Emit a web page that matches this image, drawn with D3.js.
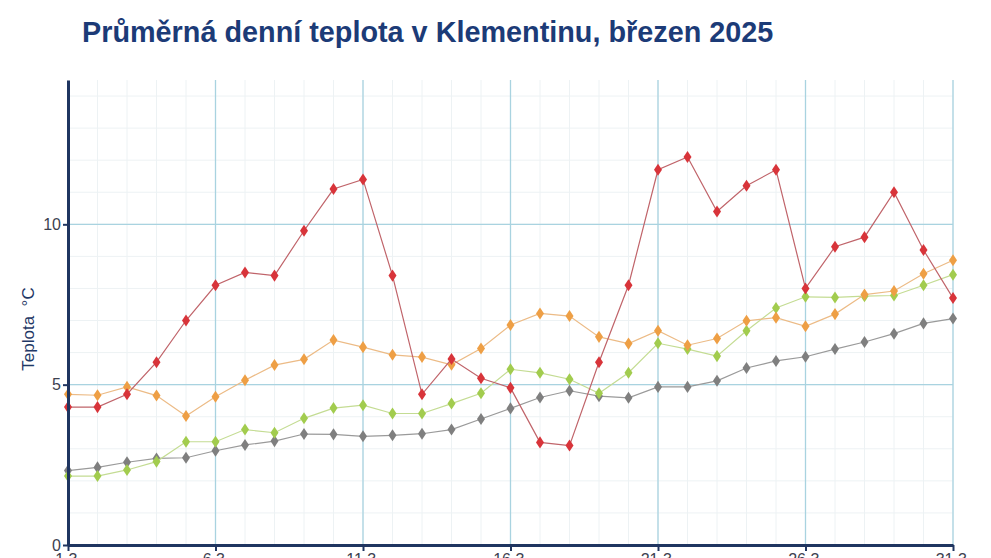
<!DOCTYPE html>
<html>
<head>
<meta charset="utf-8">
<script src="https://d3js.org/d3.v7.min.js"></script>
<style>
  body { margin: 0; background: #fff; overflow: hidden; }
  svg { display: block; font-family: "Liberation Sans", Arial, sans-serif; }
</style>
</head>
<body>
<script>
// days of March 2025
var days = d3.range(1, 32);
var tickDays = [1, 6, 11, 16, 21, 26, 31];
var tickLabels = ["1.3.", "6.3.", "11.3.", "16.3.", "21.3.", "26.3.", "31.3."];
var yTicks = [0, 5, 10];

// daily means, °C
var red = [4.3, 4.3, 4.7, 5.7, 7.0, 8.1, 8.5, 8.4, 9.8, 11.1, 11.4, 8.4, 4.7, 5.8, 5.2, 4.9,
  3.2, 3.1, 5.7, 8.1, 11.7, 12.1, 10.4, 11.2, 11.7, 8.0, 9.3, 9.6, 11.0, 9.2, 7.7];
var orange = [4.7, 4.67, 4.93, 4.66, 4.02, 4.62, 5.14, 5.61, 5.79, 6.39, 6.17, 5.93, 5.86, 5.62, 6.13, 6.86,
  7.22, 7.14, 6.49, 6.28, 6.68, 6.23, 6.44, 6.99, 7.09, 6.82, 7.2, 7.81, 7.92, 8.46, 8.88];
var green = [2.15, 2.15, 2.34, 2.6, 3.22, 3.22, 3.6, 3.5, 3.95, 4.27, 4.36, 4.1, 4.1, 4.41, 4.73, 5.48,
  5.37, 5.17, 4.73, 5.37, 6.29, 6.11, 5.89, 6.68, 7.39, 7.74, 7.72, 7.76, 7.78, 8.1, 8.43];
var gray = [2.32, 2.42, 2.58, 2.7, 2.72, 2.94, 3.12, 3.24, 3.46, 3.45, 3.39, 3.42, 3.47, 3.6, 3.93, 4.26,
  4.6, 4.81, 4.64, 4.59, 4.93, 4.93, 5.12, 5.52, 5.74, 5.87, 6.11, 6.33, 6.59, 6.91, 7.06];

var W = 991, H = 558;
var m = {top: 80, right: 38, bottom: 13, left: 68};
var w = W - m.left - m.right, h = H - m.top - m.bottom;

var svg = d3.select("body").append("svg").attr("width", W).attr("height", H);

svg.append("text")
  .attr("x", 82).attr("y", 42)
  .style("font-size", "28.8px").style("font-weight", "bold")
  .style("fill", "#1c3b77")
  .text("Průměrná denní teplota v Klementinu, březen 2025");

var g = svg.append("g").attr("transform", "translate(" + m.left + "," + m.top + ")");

var x = d3.scaleLinear().domain([1, 31]).range([0, w]);
var y = d3.scaleLinear().domain([0, 14.5]).range([h, 0]);

// minor grid
g.append("g").selectAll("line").data(days).enter().append("line")
  .attr("x1", function(d) { return x(d); }).attr("x2", function(d) { return x(d); })
  .attr("y1", 0).attr("y2", h)
  .style("stroke", "#edf2f4").style("stroke-width", 1);
g.append("g").selectAll("line").data(d3.range(1, 15)).enter().append("line")
  .attr("x1", 0).attr("x2", w)
  .attr("y1", function(d) { return y(d); }).attr("y2", function(d) { return y(d); })
  .style("stroke", "#edf2f4").style("stroke-width", 1);

// major grid
g.append("g").selectAll("line").data(tickDays.slice(1)).enter().append("line")
  .attr("x1", function(d) { return x(d); }).attr("x2", function(d) { return x(d); })
  .attr("y1", 0).attr("y2", h)
  .style("stroke", "#a9d3e0").style("stroke-width", 1.3);
g.append("g").selectAll("line").data([5, 10]).enter().append("line")
  .attr("x1", 0).attr("x2", w)
  .attr("y1", function(d) { return y(d); }).attr("y2", function(d) { return y(d); })
  .style("stroke", "#a9d3e0").style("stroke-width", 1.3);

// series
var series = [
  {vals: gray, line: "#9a9a9a", dot: "#7f7f7f"},
  {vals: green, line: "#c4dc93", dot: "#a2cc4e"},
  {vals: orange, line: "#ecbb86", dot: "#ee9f45"},
  {vals: red, line: "#c0646a", dot: "#d8343a"}
];
var line = d3.line()
  .x(function(d, i) { return x(days[i]); })
  .y(function(d) { return y(d); });
var diamond = d3.symbol().type(d3.symbolDiamond).size(42);

series.forEach(function(s) {
  g.append("path").datum(s.vals)
    .attr("d", line)
    .style("fill", "none").style("stroke", s.line).style("stroke-width", 1.2);
  g.append("g").selectAll("path").data(s.vals).enter().append("path")
    .attr("d", diamond)
    .attr("transform", function(d, i) {
      return "translate(" + x(days[i]) + "," + y(d) + ") scale(1.15,1)";
    })
    .style("fill", s.dot);
});

// axes
var xAxis = d3.axisBottom(x).tickValues(tickDays)
  .tickFormat(function(d, i) { return tickLabels[i]; })
  .tickSize(6).tickSizeOuter(0);
var yAxis = d3.axisLeft(y).tickValues(yTicks).tickSize(5).tickSizeOuter(0);

var xa = g.append("g").attr("transform", "translate(0," + h + ")").call(xAxis);
var ya = g.append("g").call(yAxis);

[xa, ya].forEach(function(a) {
  a.select(".domain").style("stroke", "#1f3560").style("stroke-width", 3);
  a.selectAll(".tick line").style("stroke", "#1f3560").style("stroke-width", 2);
  a.selectAll("text").style("font-size", "16px").style("fill", "#3c4150")
    .style("font-family", "Liberation Sans, Arial, sans-serif");
});
ya.selectAll("text").attr("x", -7);

svg.append("text")
  .attr("transform", "translate(34,329) rotate(-90)")
  .attr("text-anchor", "middle")
  .style("font-size", "17px").style("fill", "#1f3866")
  .text("Teplota\u00a0\u00a0°C");
</script>
</body>
</html>
